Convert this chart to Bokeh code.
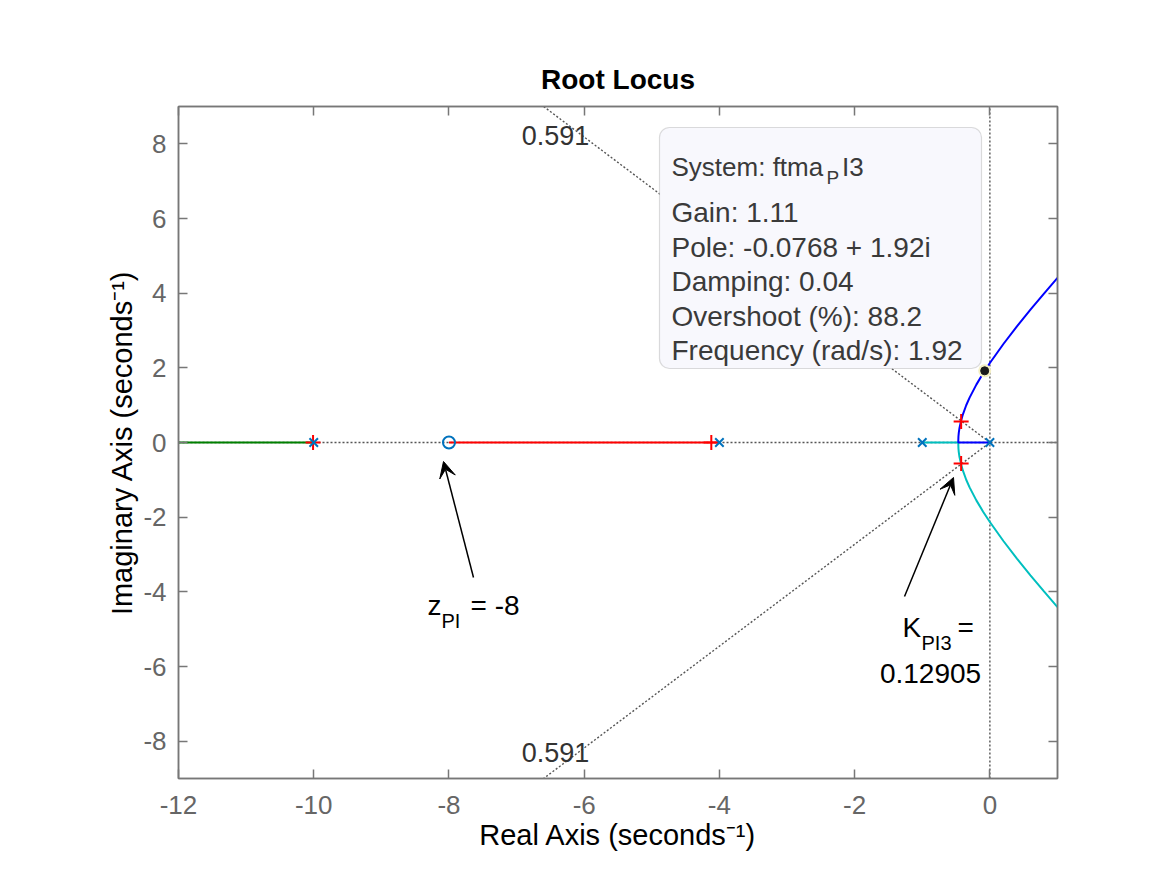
from bokeh.plotting import figure
from bokeh.models import Range1d, FixedTicker, LinearAxis, Label, BoxAnnotation, Arrow, VeeHead
from bokeh.embed import file_html
from bokeh.resources import INLINE

# ---------------- data ----------------
pole_re = [0.0, -1.0, -4.0, -10.0]
pole_im = [0.0, 0.0, 0.0, 0.0]
zero_re = [-8.0]
zero_im = [0.0]
clpole_re = [-10.01, -4.12, -0.425, -0.425]
clpole_im = [0.0, 0.0, 0.56, -0.56]
tip_re = [-0.0768]
tip_im = [1.92]

blue_re = [0.0, -0.468, -0.465, -0.46, -0.45, -0.425, -0.40, -0.35, -0.30, -0.20, -0.10, 0.0, 0.2, 0.4, 0.6, 0.8, 1.0]
blue_im = [0.0, 0.0, 0.16, 0.257, 0.383, 0.593, 0.749, 0.998, 1.203, 1.550, 1.853, 2.130, 2.638, 3.109, 3.557, 3.990, 4.411]
cyan_re = [-1.0, -0.468, -0.465, -0.46, -0.45, -0.425, -0.40, -0.35, -0.30, -0.20, -0.10, 0.0, 0.2, 0.4, 0.6, 0.8, 1.0]
cyan_im = [0.0, 0.0, -0.16, -0.257, -0.383, -0.593, -0.749, -0.998, -1.203, -1.550, -1.853, -2.130, -2.638, -3.109, -3.557, -3.990, -4.411]
red_re = [-4.0, -8.0]
red_im = [0.0, 0.0]
green_re = [-10.0, -13.0]
green_im = [0.0, 0.0]

damp_re = [-6.6, 0.0, -6.6]
damp_im = [9.0, 0.0, -9.0]
real_axis_re = [-12.0, 1.0]
real_axis_im = [0.0, 0.0]
imag_axis_re = [0.0, 0.0]
imag_axis_im = [-9.0, 9.0]

x_ticks = [-12, -10, -8, -6, -4, -2, 0]
y_ticks = [-8, -6, -4, -2, 0, 2, 4, 6, 8]

FONT = "Liberation Sans"

# ---------------- figure ----------------
p = figure(width=1167, height=875, x_range=Range1d(-12, 1), y_range=Range1d(-9, 9),
           output_backend="svg", toolbar_location=None,
           min_border_left=178, min_border_right=110, min_border_top=106, min_border_bottom=97)
p.grid.visible = False
p.outline_line_color = "#777777"
p.outline_line_width = 1.5
p.background_fill_color = "white"
p.border_fill_color = "white"

p.title.text = "Root Locus"
p.title.align = "center"
p.title.text_font = FONT
p.title.text_font_size = "28px"
p.title.text_font_style = "bold"
p.title.text_color = "#000000"
p.title.standoff = 24

p.add_layout(LinearAxis(), "above")
p.add_layout(LinearAxis(), "right")

for ax in p.xaxis:
    ax.ticker = FixedTicker(ticks=x_ticks)
    ax.major_label_overrides = {t: str(t) for t in x_ticks}
for ax in p.yaxis:
    ax.ticker = FixedTicker(ticks=y_ticks)
    ax.major_label_overrides = {t: str(t) for t in y_ticks}
for ax in p.axis:
    ax.axis_line_color = "#777777"
    ax.axis_line_width = 1.5
    ax.major_tick_line_color = "#777777"
    ax.major_tick_line_width = 1.5
    ax.major_tick_in = 9
    ax.major_tick_out = 0
    ax.minor_tick_in = 0
    ax.minor_tick_out = 0
    ax.major_label_text_font = FONT
    ax.major_label_text_font_size = "26px"
    ax.major_label_text_color = "#666666"
    ax.axis_label_text_font = FONT
    ax.axis_label_text_font_size = "29px"
    ax.axis_label_text_font_style = "normal"
    ax.axis_label_text_color = "#000000"

for ax in (p.above[-1], p.right[0]):
    ax.major_label_text_color = None
    ax.major_label_text_font_size = "0px"
    ax.major_label_standoff = 0

p.below[0].major_label_standoff = 17
p.left[0].major_label_standoff = 12
p.below[0].axis_label = "Real Axis (seconds\u207b\u00b9)"
p.below[0].axis_label_standoff = 2
p.left[0].axis_label = "Imaginary Axis (seconds\u207b\u00b9)"
p.left[0].axis_label_standoff = 2

# grid-like dotted lines
DOT = dict(line_color="#555555", line_width=1.4, line_dash="2 2")
p.line(real_axis_re, real_axis_im, **DOT)
p.line(imag_axis_re, imag_axis_im, **DOT)
p.line(damp_re, damp_im, **DOT)

# locus branches
p.line(green_re, green_im, line_color="#008000", line_width=2)
p.line(red_re, red_im, line_color="#FF0000", line_width=2)
p.line(cyan_re, cyan_im, line_color="#00BFBF", line_width=2)
p.line(blue_re, blue_im, line_color="#0000FF", line_width=2)

# markers
p.scatter(clpole_re, clpole_im, marker="cross", size=15, line_color="#FF0000", line_width=2)
p.scatter(pole_re, pole_im, marker="x", size=12, line_color="#0072BD", line_width=2)
p.scatter(zero_re, zero_im, marker="circle", size=12, fill_color=None, line_color="#0072BD", line_width=2)
p.scatter(tip_re, tip_im, marker="circle", size=13, fill_color="#F4EFC4", line_color=None)
p.scatter(tip_re, tip_im, marker="circle", size=8, fill_color="#1a1a1a", line_color="#1a1a1a")


def px_x(px):
    return -12 + (px - 178) * 13 / 879


def px_y(py):
    return 9 - (py - 106) * 18 / 672


def lab(text, px, py, size, color="#000000", align="left", baseline="alphabetic", style="normal"):
    p.add_layout(Label(x=px_x(px), y=px_y(py), text=text, text_font=FONT,
                       text_font_size=f"{size}px", text_color=color, text_align=align,
                       text_baseline=baseline, text_font_style=style))


# damping labels
lab("0.591", 555, 135, 27, color="#333333", align="center", baseline="middle")
lab("0.591", 555, 752, 27, color="#333333", align="center", baseline="middle")

# data tip
p.add_layout(BoxAnnotation(left=px_x(659), right=px_x(981), top=px_y(127), bottom=px_y(368),
                           fill_color="#F8F8FD", fill_alpha=1.0, line_color="#8c8c8c",
                           line_width=1.2, border_radius=10))
TIP = "#3a3a3a"
TS = 28
SS = 26
w_main = 6.035 * SS
lab("System: ftma", 671, 166, SS, TIP)
lab("P", 671 + w_main - 2, 177, 19, TIP)
lab("I3", 671 + w_main + 0.667 * 19 + 1, 166, SS, TIP)
lab("Gain: 1.11", 671, 212, TS, TIP)
lab("Pole: -0.0768 + 1.92i", 671, 246.5, TS, TIP)
lab("Damping: 0.04", 671, 281, TS, TIP)
lab("Overshoot (%): 88.2", 671, 315.5, TS, TIP)
lab("Frequency (rad/s): 1.92", 671, 350, TS, TIP)

# annotations with arrows
p.add_layout(Arrow(end=VeeHead(size=16, fill_color="black", line_color="black"),
                   x_start=px_x(473), y_start=px_y(577), x_end=px_x(443), y_end=px_y(461),
                   line_color="black", line_width=1.5))
p.add_layout(Arrow(end=VeeHead(size=16, fill_color="black", line_color="black"),
                   x_start=px_x(904), y_start=px_y(596), x_end=px_x(953), y_end=px_y(477),
                   line_color="black", line_width=1.5))

lab("z", 427, 605, 28)
lab("PI", 441, 620, 20)
lab("= -8", 470, 605, 28)

lab("K", 902, 627, 28)
lab("PI3", 921, 642, 20)
lab("=", 957, 627, 28)
lab("0.12905", 930, 673, 28, align="center")

open("out.html", "w").write(file_html(p, INLINE))
